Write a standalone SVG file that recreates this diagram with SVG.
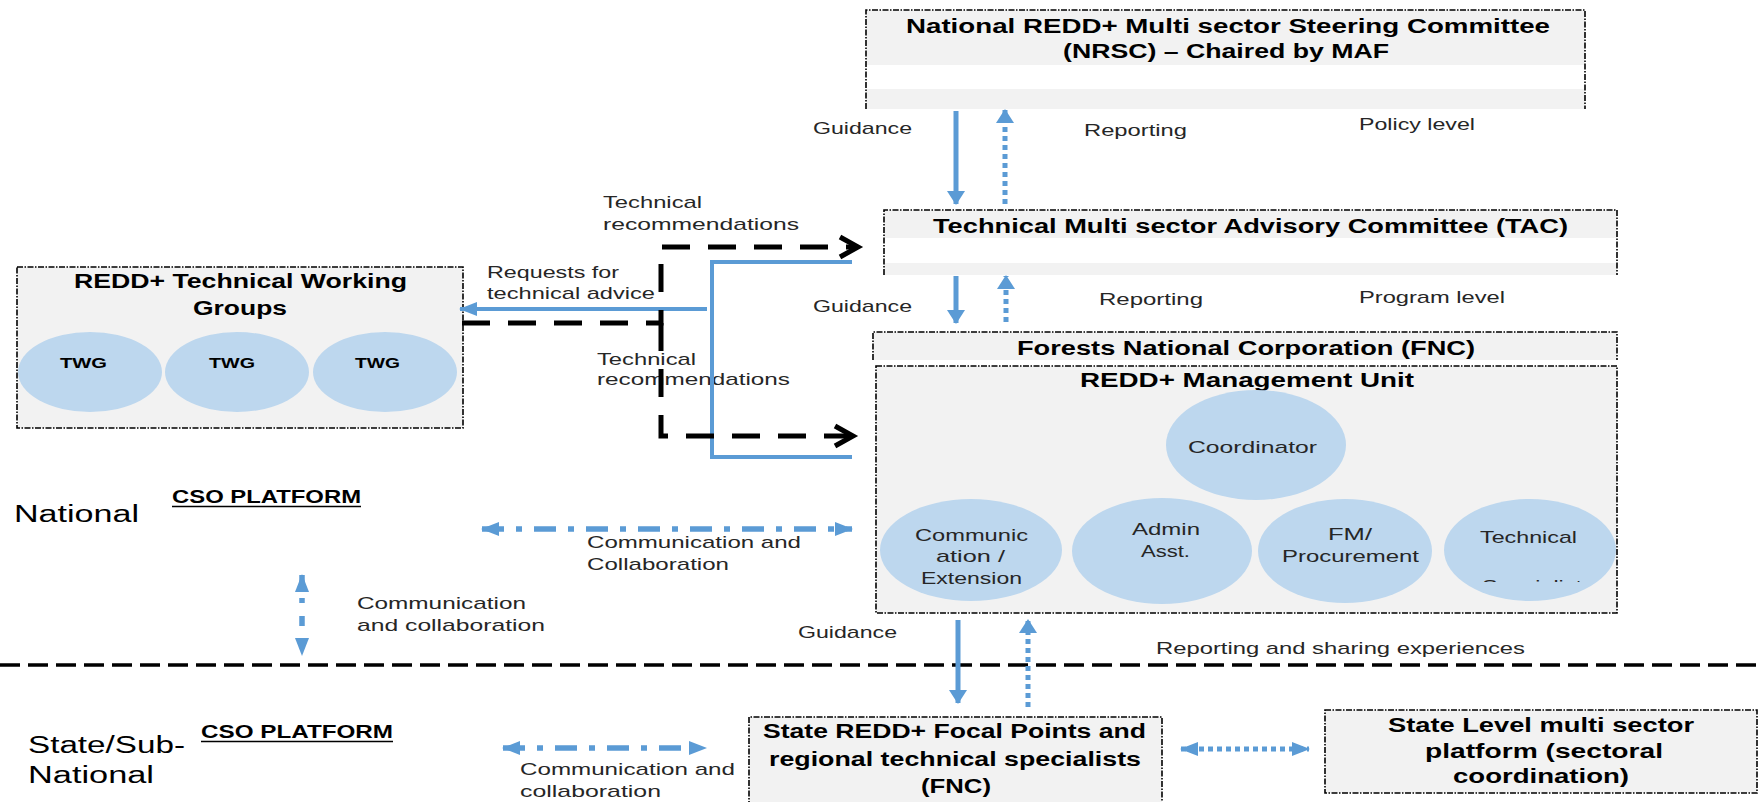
<svg xmlns="http://www.w3.org/2000/svg" width="1764" height="802" viewBox="0 0 1764 802">
<style>
text{font-family:"Liberation Sans",Arial,sans-serif;}
.tb{font-size:20px;font-weight:bold;fill:#000;}
.tw{font-size:14px;font-weight:bold;fill:#000;}
.cso{font-size:18px;font-weight:bold;fill:#000;}
.lb{font-size:17px;fill:#262626;}
.side{font-size:23px;fill:#000;}
.box{fill:#f2f2f2;}
.bd{fill:none;stroke:#000;stroke-width:1.6;stroke-dasharray:6 1.5 1.5 1.5;}
.cir{fill:#bdd7ee;}
.solid{fill:none;stroke:#5b9bd5;stroke-width:5;}
.dot{fill:none;stroke:#5b9bd5;stroke-width:5;stroke-dasharray:5 4;}
.dd{fill:none;stroke:#5b9bd5;stroke-width:5.5;stroke-dasharray:22 12 6 12;}
.bl{fill:none;stroke:#5b9bd5;stroke-width:4;}
.bk{fill:none;stroke:#000;stroke-width:5;stroke-dasharray:28 18;}
.sep{fill:none;stroke:#000;stroke-width:3.5;stroke-dasharray:20 8;}
.ul{stroke:#000;stroke-width:1.6;}
</style>
<defs>
<marker id="ah" viewBox="0 0 14 18" refX="13" refY="9" markerWidth="14" markerHeight="18" markerUnits="userSpaceOnUse" orient="auto-start-reverse"><path d="M0,0 L14,9 L0,18 z" fill="#5b9bd5"/></marker>
<marker id="ahs" viewBox="0 0 18 14" refX="17" refY="7" markerWidth="18" markerHeight="14" markerUnits="userSpaceOnUse" orient="auto-start-reverse"><path d="M0,0 L18,7 L0,14 z" fill="#5b9bd5"/></marker>
<marker id="ch" viewBox="-3 -3 26 26" refX="20" refY="10" markerWidth="26" markerHeight="26" markerUnits="userSpaceOnUse" orient="auto" overflow="visible"><path d="M2,0 L20,10 L2,20" fill="none" stroke="#000" stroke-width="5"/></marker>
<clipPath id="spc"><rect x="1440" y="560" width="180" height="22"/></clipPath>
</defs>

<g id="nrsc">
<rect class="box" x="866" y="10" width="719" height="99"/>
<rect x="866" y="65" width="719" height="24" fill="#fff"/>
<path class="bd" d="M866,109 V10 H1585 V109"/>
<text class="tb" x="906" y="33" textLength="644" lengthAdjust="spacingAndGlyphs">National REDD+ Multi sector Steering Committee</text>
<text class="tb" x="1063" y="58" textLength="326" lengthAdjust="spacingAndGlyphs">(NRSC) – Chaired by MAF</text>
</g>

<g id="tac">
<rect class="box" x="884" y="210" width="733" height="65"/>
<rect x="884" y="238" width="733" height="25" fill="#fff"/>
<path class="bd" d="M884,275 V210 H1617 V275"/>
<text class="tb" x="933" y="233" textLength="635" lengthAdjust="spacingAndGlyphs">Technical Multi sector Advisory Committee (TAC)</text>
</g>

<g id="fnc">
<rect class="box" x="873" y="332" width="744" height="28"/>
<path class="bd" d="M873,360 V332 H1617 V360"/>
<text class="tb" x="1017" y="355" textLength="458" lengthAdjust="spacingAndGlyphs">Forests National Corporation (FNC)</text>
</g>

<g id="mu">
<rect class="box" x="876" y="366" width="741" height="247"/>
<rect class="bd" x="876" y="366" width="741" height="247"/>
<text class="tb" x="1080" y="387" textLength="334" lengthAdjust="spacingAndGlyphs">REDD+ Management Unit</text>
</g>

<g id="coordinator">
<ellipse class="cir" cx="1256" cy="445" rx="90" ry="55"/>
<text class="lb" x="1188" y="453" textLength="129" lengthAdjust="spacingAndGlyphs">Coordinator</text>
</g>
<g id="communication">
<ellipse class="cir" cx="971" cy="550" rx="91" ry="51"/>
<text class="lb" x="915" y="541" textLength="113" lengthAdjust="spacingAndGlyphs">Communic</text>
<text class="lb" x="936" y="562" textLength="69" lengthAdjust="spacingAndGlyphs">ation /</text>
<text class="lb" x="921" y="584" textLength="101" lengthAdjust="spacingAndGlyphs">Extension</text>
</g>
<g id="admin">
<ellipse class="cir" cx="1162" cy="551" rx="90" ry="53"/>
<text class="lb" x="1132" y="535" textLength="68" lengthAdjust="spacingAndGlyphs">Admin</text>
<text class="lb" x="1141" y="557" textLength="49" lengthAdjust="spacingAndGlyphs">Asst.</text>
</g>
<g id="fm">
<ellipse class="cir" cx="1345" cy="551" rx="87" ry="52"/>
<text class="lb" x="1328" y="540" textLength="44" lengthAdjust="spacingAndGlyphs">FM/</text>
<text class="lb" x="1282" y="562" textLength="137" lengthAdjust="spacingAndGlyphs">Procurement</text>
</g>
<g id="technical">
<ellipse class="cir" cx="1530" cy="550" rx="86" ry="51"/>
<text class="lb" x="1480" y="543" textLength="97" lengthAdjust="spacingAndGlyphs">Technical</text>
<text class="lb" x="1482" y="592" textLength="100" lengthAdjust="spacingAndGlyphs" clip-path="url(#spc)">Specialist</text>
</g>

<g id="twg">
<rect class="box" x="17" y="267" width="446" height="161"/>
<rect class="bd" x="17" y="267" width="446" height="161"/>
<text class="tb" x="74" y="288" textLength="333" lengthAdjust="spacingAndGlyphs">REDD+ Technical Working</text>
<text class="tb" x="193" y="315" textLength="94" lengthAdjust="spacingAndGlyphs">Groups</text>
<ellipse class="cir" cx="90" cy="372" rx="72" ry="40"/>
<ellipse class="cir" cx="237" cy="372" rx="72" ry="40"/>
<ellipse class="cir" cx="385" cy="372" rx="72" ry="40"/>
<text class="tw" x="60" y="368" textLength="47" lengthAdjust="spacingAndGlyphs">TWG</text>
<text class="tw" x="209" y="368" textLength="46" lengthAdjust="spacingAndGlyphs">TWG</text>
<text class="tw" x="355" y="368" textLength="45" lengthAdjust="spacingAndGlyphs">TWG</text>
</g>

<g id="state-redd">
<rect class="box" x="749" y="717" width="413" height="90"/>
<path class="bd" d="M749,807 V717 H1162 V807"/>
<text class="tb" x="763" y="738" textLength="383" lengthAdjust="spacingAndGlyphs">State REDD+ Focal Points and</text>
<text class="tb" x="769" y="766" textLength="372" lengthAdjust="spacingAndGlyphs">regional technical specialists</text>
<text class="tb" x="921" y="793" textLength="70" lengthAdjust="spacingAndGlyphs">(FNC)</text>
</g>

<g id="state-level">
<rect class="box" x="1325" y="710" width="432" height="83"/>
<rect class="bd" x="1325" y="710" width="432" height="83"/>
<text class="tb" x="1388" y="732" textLength="306" lengthAdjust="spacingAndGlyphs">State Level multi sector</text>
<text class="tb" x="1425" y="758" textLength="238" lengthAdjust="spacingAndGlyphs">platform (sectoral</text>
<text class="tb" x="1453" y="783" textLength="176" lengthAdjust="spacingAndGlyphs">coordination)</text>
</g>

<g id="cso-national">
<text class="side" x="14" y="522" textLength="125" lengthAdjust="spacingAndGlyphs">National</text>
<text class="cso" x="172" y="503" textLength="189" lengthAdjust="spacingAndGlyphs">CSO PLATFORM</text>
<line class="ul" x1="172" y1="506.5" x2="361" y2="506.5"/>
</g>
<g id="cso-state">
<text class="side" x="28" y="753" textLength="157" lengthAdjust="spacingAndGlyphs">State/Sub-</text>
<text class="side" x="28" y="783" textLength="126" lengthAdjust="spacingAndGlyphs">National</text>
<text class="cso" x="201" y="738" textLength="192" lengthAdjust="spacingAndGlyphs">CSO PLATFORM</text>
<line class="ul" x1="201" y1="741.5" x2="393" y2="741.5"/>
</g>

<g id="labels">
<text class="lb" x="813" y="134" textLength="99" lengthAdjust="spacingAndGlyphs">Guidance</text>
<text class="lb" x="1084" y="136" textLength="103" lengthAdjust="spacingAndGlyphs">Reporting</text>
<text class="lb" x="1359" y="130" textLength="116" lengthAdjust="spacingAndGlyphs">Policy level</text>
<text class="lb" x="813" y="312" textLength="99" lengthAdjust="spacingAndGlyphs">Guidance</text>
<text class="lb" x="1099" y="305" textLength="104" lengthAdjust="spacingAndGlyphs">Reporting</text>
<text class="lb" x="1359" y="303" textLength="146" lengthAdjust="spacingAndGlyphs">Program level</text>
<text class="lb" x="603" y="208" textLength="99" lengthAdjust="spacingAndGlyphs">Technical</text>
<text class="lb" x="603" y="230" textLength="196" lengthAdjust="spacingAndGlyphs">recommendations</text>
<text class="lb" x="487" y="278" textLength="132" lengthAdjust="spacingAndGlyphs">Requests for</text>
<text class="lb" x="487" y="299" textLength="168" lengthAdjust="spacingAndGlyphs">technical advice</text>
<text class="lb" x="597" y="365" textLength="99" lengthAdjust="spacingAndGlyphs">Technical</text>
<text class="lb" x="597" y="385" textLength="193" lengthAdjust="spacingAndGlyphs">recommendations</text>
<text class="lb" x="587" y="548" textLength="214" lengthAdjust="spacingAndGlyphs">Communication and</text>
<text class="lb" x="587" y="570" textLength="142" lengthAdjust="spacingAndGlyphs">Collaboration</text>
<text class="lb" x="357" y="609" textLength="169" lengthAdjust="spacingAndGlyphs">Communication</text>
<text class="lb" x="357" y="631" textLength="188" lengthAdjust="spacingAndGlyphs">and collaboration</text>
<text class="lb" x="798" y="638" textLength="99" lengthAdjust="spacingAndGlyphs">Guidance</text>
<text class="lb" x="1156" y="654" textLength="369" lengthAdjust="spacingAndGlyphs">Reporting and sharing experiences</text>
<text class="lb" x="520" y="775" textLength="215" lengthAdjust="spacingAndGlyphs">Communication and</text>
<text class="lb" x="520" y="797" textLength="141" lengthAdjust="spacingAndGlyphs">collaboration</text>
</g>

<g id="connectors">
<path class="sep" d="M0,665 H1764"/>
<path class="solid" d="M956,111 V204" marker-end="url(#ah)"/>
<path class="dot" d="M1005,204 V110" marker-end="url(#ah)"/>
<path class="solid" d="M956,276 V323" marker-end="url(#ah)"/>
<path class="dot" d="M1006,322 V276" marker-end="url(#ah)"/>
<path class="solid" d="M958,620 V703" marker-end="url(#ah)"/>
<path class="dot" d="M1028,707 V620" marker-end="url(#ah)"/>
<path class="bl" d="M852,262 H712 V457 H852"/>
<path class="bl" d="M707,309 H460" marker-end="url(#ahs)"/>
<path class="bk" d="M462,323 H661 V247 H858" marker-end="url(#ch)"/>
<path class="bk" d="M661,323 V436 H853" marker-end="url(#ch)"/>
<path class="dd" d="M482,529 H852" marker-start="url(#ahs)" marker-end="url(#ahs)"/>
<path class="dd" d="M302,575 V655" style="stroke-dasharray:10 13 5 13" marker-start="url(#ahs)" marker-end="url(#ahs)"/>
<path class="dd" d="M503,748 H706" marker-start="url(#ahs)" marker-end="url(#ahs)"/>
<path class="dot" d="M1181,749 H1309" marker-start="url(#ahs)" marker-end="url(#ahs)"/>
</g>
</svg>
